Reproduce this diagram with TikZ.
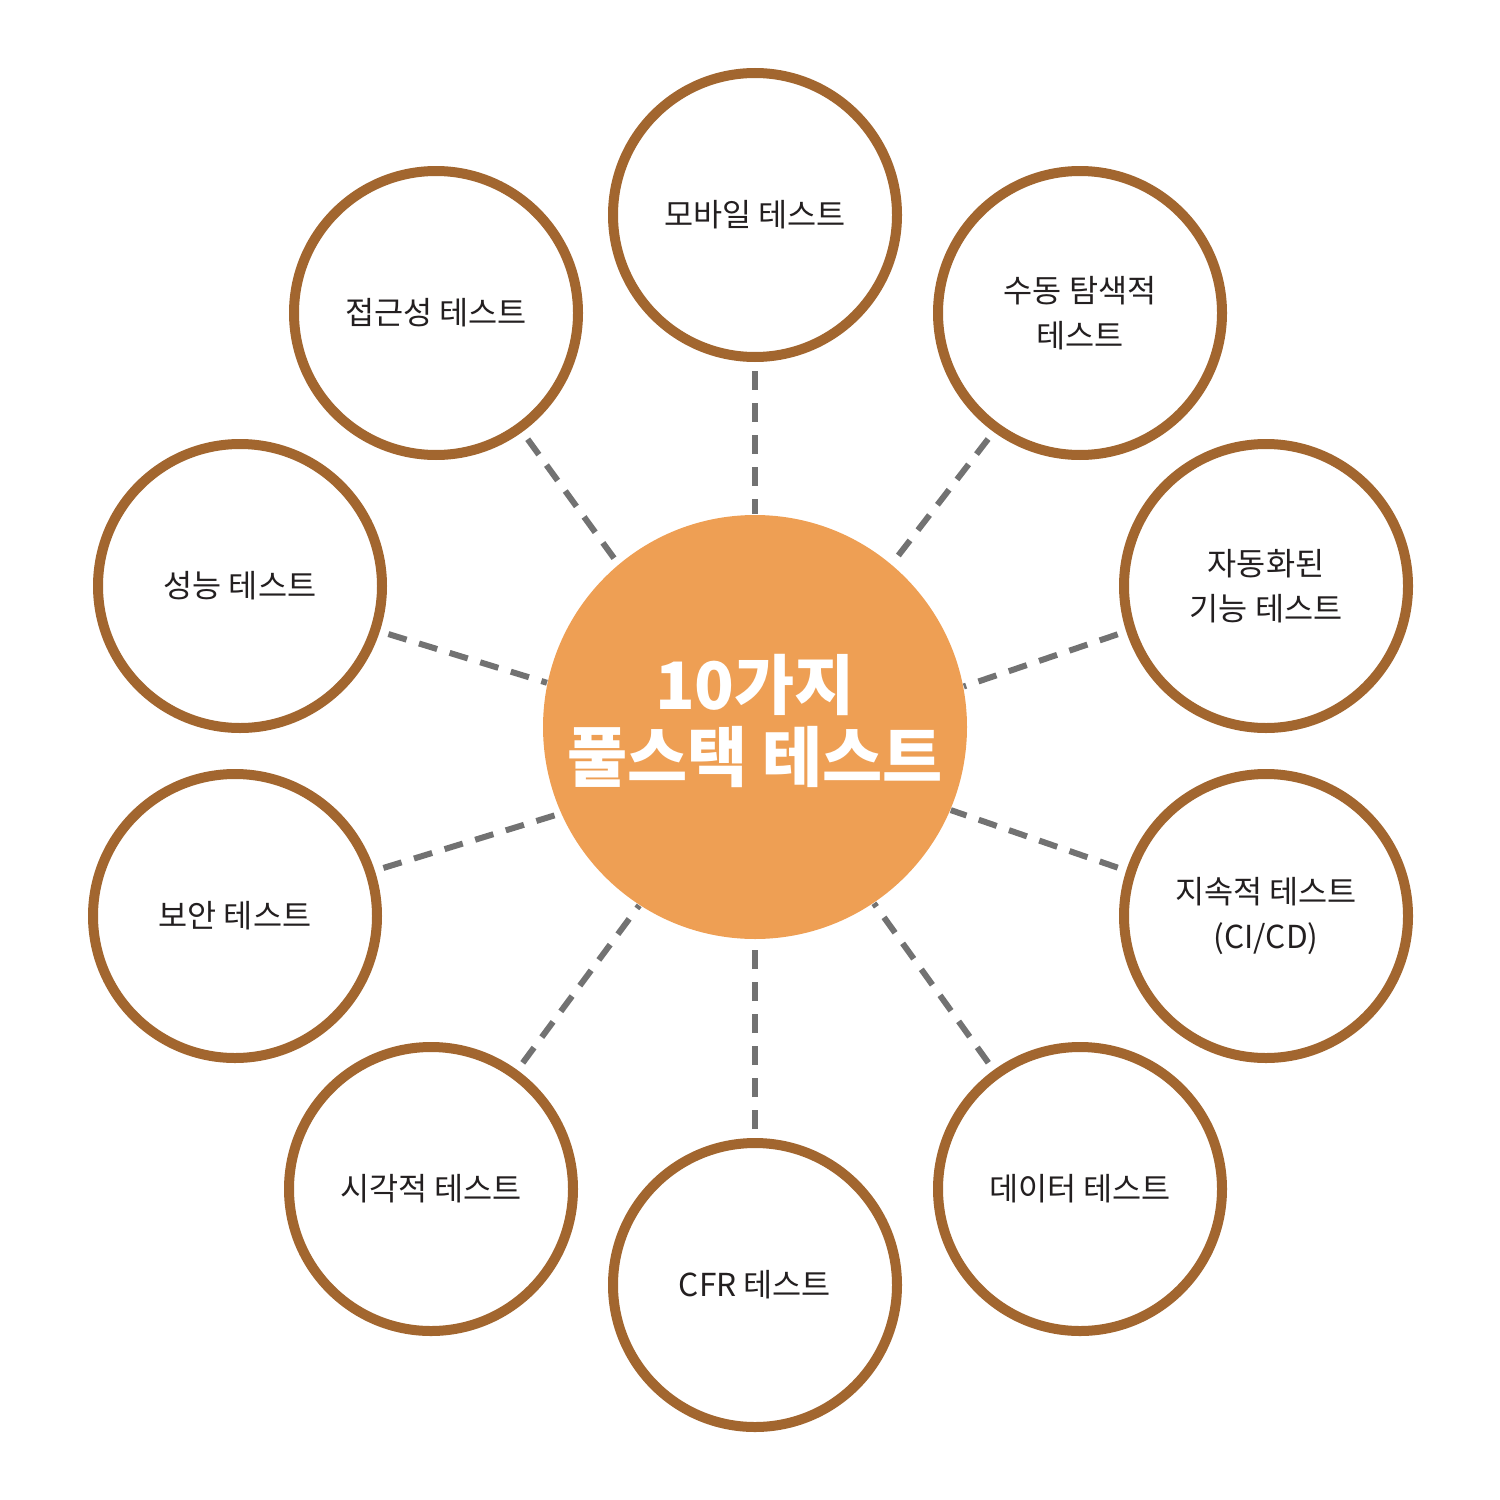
\documentclass[tikz,border=0pt]{standalone}
\usepackage{fontspec}
\newfontfamily\kr{Noto Sans CJK KR}
\newfontfamily\krb{Noto Sans CJK KR Black}
\definecolor{ringbrown}{HTML}{A2662F}
\definecolor{hub}{HTML}{EE9F54}
\definecolor{dashgray}{HTML}{727272}
\definecolor{txt}{HTML}{231F20}
\begin{document}
\begin{tikzpicture}[x=0.1mm,y=-0.1mm,
  ring/.style={circle,draw=ringbrown,line width=1mm,fill=white,minimum size=28.4mm,inner sep=0pt,
    align=center,text=txt,font=\kr\fontsize{9pt}{12.8pt}\selectfont},
  hubnode/.style={circle,fill=hub,minimum size=42.4mm,inner sep=0pt},
  conn/.style={draw=dashgray,line width=0.6mm,dash pattern=on 1.9mm off 1.3mm,shorten <=0.9mm}]
\useasboundingbox (0,0) rectangle (1500,1500);
\node[hubnode] (c) at (755,727) {};
\node[align=center,text=white,font=\krb\fontsize{18.6pt}{20.5pt}\selectfont] (ct) at (755,721) {10가지\\풀스택 테스트};
\node[ring] (m) at (755,215) {모바일 테스트};
\node[ring] (s) at (1080,313) {수동 탐색적\\테스트};
\node[ring] (a) at (1266,586) {자동화된\\기능 테스트};
\node[ring] (ci) at (1266,916) {지속적 테스트\\(CI/CD)};
\node[ring] (d) at (1080,1189) {데이터 테스트};
\node[ring] (f) at (755,1285) {CFR 테스트};
\node[ring] (v) at (431,1189) {시각적 테스트};
\node[ring] (sec) at (235,916) {보안 테스트};
\node[ring] (p) at (240,586) {성능 테스트};
\node[ring] (acc) at (436,313) {접근성 테스트};
\draw[conn] (m.-90) -- (c.90);
\draw[conn] (f.90) -- (c.-90);
\draw[conn] (p.-18) -- (c.168.5);
\draw[conn] (a.-162) -- (c.11.5);
\draw[conn] (sec.18) -- (c.-156.5);
\draw[conn] (ci.162) -- (c.-23.5);
\draw[conn] (acc.-54) -- (c.130);
\draw[conn] (s.-126) -- (c.50);
\draw[conn] (v.54) -- (c.-123.5);
\draw[conn] (d.126) -- (c.-56.5);
\end{tikzpicture}
\end{document}
